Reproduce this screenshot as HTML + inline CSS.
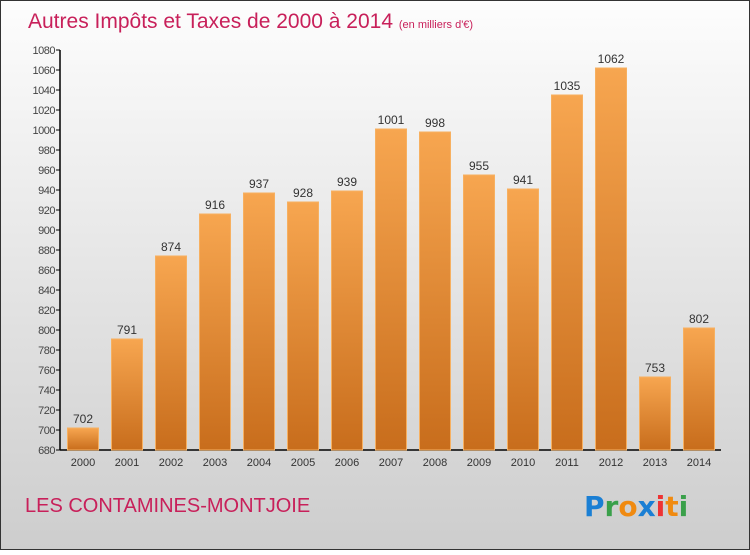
<!DOCTYPE html>
<html><head><meta charset="utf-8"><style>
body{margin:0;width:750px;height:550px;overflow:hidden;font-family:"Liberation Sans",sans-serif}
</style></head><body>
<svg width="750" height="550" xmlns="http://www.w3.org/2000/svg">
<defs>
<linearGradient id="bg" x1="0" y1="0" x2="0" y2="1"><stop offset="0" stop-color="#fdfdfd"/><stop offset="1" stop-color="#cdcdcd"/></linearGradient>
<linearGradient id="bar" x1="0" y1="0" x2="0" y2="1"><stop offset="0" stop-color="#f7a650"/><stop offset="1" stop-color="#c86d1c"/></linearGradient>
</defs>
<rect x="0.5" y="0.5" width="749" height="549" fill="url(#bg)" stroke="#333"/>
<text x="28" y="28" font-size="21" fill="#c8205a">Autres Impôts et Taxes de 2000 à 2014 <tspan font-size="11">(en milliers d'€)</tspan></text>
<g id="axes"></g>
<g id="bars"></g>
<text x="25" y="512" font-size="20" fill="#c8205a">LES CONTAMINES-MONTJOIE</text>
<g font-size="28" font-weight="bold" font-family="DejaVu Sans, sans-serif">
<text x="584" y="516"><tspan fill="#1a7fd4">P</tspan><tspan fill="#3aa04a">r</tspan><tspan fill="#f08a10">o</tspan><tspan fill="#1a7fd4">x</tspan><tspan fill="#e33">i</tspan><tspan fill="#f08a10">t</tspan><tspan fill="#3aa04a">i</tspan></text>
</g>
</svg>
<script>
const years=["2000","2001","2002","2003","2004","2005","2006","2007","2008","2009","2010","2011","2012","2013","2014"];
const values=[702,791,874,916,937,928,939,1001,998,955,941,1035,1062,753,802];
const yTicks=[680,700,720,740,760,780,800,820,840,860,880,900,920,940,960,980,1000,1020,1040,1060,1080];
const NS="http://www.w3.org/2000/svg";
const x0=62,step=44,bw=31,yMin=680,yMax=1080,yTop=50,yBot=450;
const y=v=>yBot-(v-yMin)/(yMax-yMin)*(yBot-yTop);
const xc=i=>x0+21+i*step;
function mk(t,a,p){const e=document.createElementNS(NS,t);for(const k in a)e.setAttribute(k,a[k]);p.appendChild(e);return e;}
const ax=document.getElementById('axes'),bars=document.getElementById('bars');
const yl=mk('line',{x1:60,y1:yTop,x2:60,y2:yBot,stroke:'#000','stroke-width':1.5},ax);


const xl=mk('line',{x1:60,y1:yBot,x2:721,y2:yBot,stroke:'#000','stroke-width':1.5},ax);


yTicks.forEach(v=>{
 mk('line',{x1:56,y1:y(v),x2:60,y2:y(v),stroke:'#000'},ax);
 const t=mk('text',{x:55,y:y(v)+4,'text-anchor':'end','font-size':11,fill:'#444','letter-spacing':'-0.5'},ax);
 t.textContent=v;
 
 
});
values.forEach((v,i)=>{
 const r=mk('rect',{x:xc(i)-bw/2,y:y(v),width:bw,height:yBot-y(v),fill:'url(#bar)',stroke:'#f7b060','stroke-width':1},bars);
 
 
 const l=mk('text',{x:xc(i),y:y(v)-5,'text-anchor':'middle','font-size':12,fill:'#333'},bars);
 l.textContent=v;
 
 
 const tl=mk('text',{x:xc(i),y:466,'text-anchor':'middle','font-size':11,fill:'#333'},ax);
 tl.textContent=years[i];
 
 
});
</script>
</body></html>
